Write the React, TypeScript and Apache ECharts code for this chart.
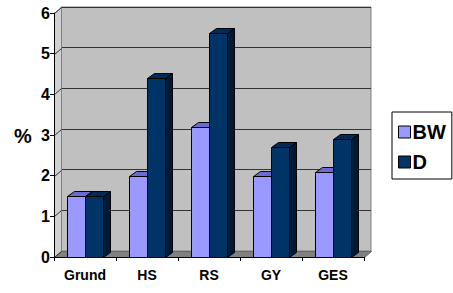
import React, { useEffect, useRef } from "react";
import * as echarts from "echarts";

const categories = ["Grund", "HS", "RS", "GY", "GES"];
const bwValues = [1.5, 2.0, 3.2, 2.0, 2.1];
const dValues = [1.5, 4.4, 5.5, 2.7, 2.9];
const seriesNames = ["BW", "D"];
const yTicks = [0, 1, 2, 3, 4, 5, 6];

const FONT = "'Liberation Sans', Arial, sans-serif";
const DX = 7; // depth offset of the wall
const DY = -6;
const BDX = 7; // bar depth
const BDY = -5;

const px = (v: number) => Math.round(v) + 0.5;

function barRenderer(side: number, front: string, topC: string, sideC: string) {
  return (params: any, api: any) => {
    const idx = api.value(0);
    const val = api.value(1);
    const top = api.coord([idx, val]);
    const base = api.coord([idx, 0]);
    const band = api.size([1, 0])[0];
    const w = Math.round(band * 0.29);
    const x0 = px(side < 0 ? top[0] - w : top[0]);
    const x1 = x0 + w;
    const yT = px(top[1]);
    const yB = px(base[1]);
    return {
      type: "group",
      children: [
        {
          type: "polygon",
          shape: { points: [[x1, yT], [x1 + BDX, yT + BDY], [x1 + BDX, yB + BDY], [x1, yB]] },
          style: { fill: sideC, stroke: "#000", lineWidth: 1 },
        },
        {
          type: "polygon",
          shape: { points: [[x0, yT], [x0 + BDX, yT + BDY], [x1 + BDX, yT + BDY], [x1, yT]] },
          style: { fill: topC, stroke: "#000", lineWidth: 1 },
        },
        {
          type: "polygon",
          shape: { points: [[x0, yT], [x1, yT], [x1, yB], [x0, yB]] },
          style: { fill: front, stroke: "#000", lineWidth: 1 },
        },
      ],
    };
  };
}

function frameRenderer(params: any, api: any) {
  const cs = params.coordSys;
  const left = px(cs.x);
  const right = px(cs.x + cs.width);
  const bottom = px(cs.y + cs.height);
  const topY = px(cs.y);
  const children: any[] = [];
  children.push({
    type: "polygon",
    shape: { points: [[left, bottom], [left, topY], [left + DX, topY + DY], [left + DX, bottom + DY]] },
    style: { fill: "#D0D0D0", stroke: "#808080", lineWidth: 1 },
  });
  children.push({
    type: "polygon",
    shape: { points: [[left, bottom], [right, bottom], [right + DX, bottom + DY], [left + DX, bottom + DY]] },
    style: { fill: "#808080", stroke: "#666", lineWidth: 1 },
  });
  yTicks.forEach((v) => {
    const y = px(api.coord([0, v])[1]);
    children.push({
      type: "line",
      shape: { x1: left, y1: y, x2: left + DX, y2: y + DY },
      style: { stroke: "#333", lineWidth: 1 },
    });
  });
  return { type: "group", children };
}

export default function App() {
  const ref = useRef<HTMLDivElement>(null);
  useEffect(() => {
    if (!ref.current) return;
    const chart = echarts.init(ref.current, undefined, { renderer: "svg" });
    const catIdx = categories.map((_, i) => i);
    chart.setOption({
      animation: false,
      backgroundColor: "#fff",
      grid: [
        { left: 54, right: 89, top: 13, bottom: 36, containLabel: false },
        {
          left: 54 + DX,
          right: 89 - DX,
          top: 13 + DY,
          bottom: 36 - DY,
          show: true,
          backgroundColor: "#C0C0C0",
          borderColor: "#808080",
          borderWidth: 1,
          z: 0,
        },
      ],
      xAxis: [
        {
          type: "category",
          gridIndex: 0,
          data: categories,
          boundaryGap: true,
          axisLine: { show: true, lineStyle: { color: "#000", width: 1 } },
          axisTick: { show: true, length: 4, interval: 0, lineStyle: { color: "#000" } },
          axisLabel: { fontFamily: FONT, fontWeight: "bold", fontSize: 14, color: "#000", margin: 11, interval: 0 },
          z: 5,
        },
        { type: "category", gridIndex: 1, data: categories, show: false },
      ],
      yAxis: [
        {
          type: "value",
          gridIndex: 0,
          min: 0,
          max: 6,
          interval: 1,
          axisLine: { show: true, lineStyle: { color: "#000", width: 1 } },
          axisTick: { show: true, length: 4, lineStyle: { color: "#000" } },
          axisLabel: { fontFamily: FONT, fontWeight: "bold", fontSize: 16, color: "#000", margin: 4 },
          splitLine: { show: false },
          z: 5,
        },
        {
          type: "value",
          gridIndex: 1,
          min: 0,
          max: 6,
          interval: 1,
          axisLine: { show: false },
          axisTick: { show: false },
          axisLabel: { show: false },
          splitLine: { show: true, lineStyle: { color: "#333", width: 1 } },
        },
      ],
      legend: {
        data: seriesNames,
        orient: "vertical",
        left: 392,
        top: 112,
        padding: [10, 6, 7, 6],
        itemGap: 10,
        itemWidth: 12,
        itemHeight: 12,
        icon: "rect",
        selectedMode: false,
        backgroundColor: "#fff",
        borderColor: "#000",
        borderWidth: 1,
        borderRadius: 0,
        itemStyle: { borderColor: "#000", borderWidth: 1 },
        textStyle: { fontFamily: FONT, fontWeight: "bold", fontSize: 20, color: "#000", padding: [0, 0, 0, -3], lineHeight: 19 },
      },
      graphic: [
        {
          type: "text",
          x: 23,
          y: 136,
          style: { text: "%", font: `bold 20px ${FONT}`, fill: "#000", align: "center", verticalAlign: "middle" },
        },
      ],
      series: [
        {
          type: "custom",
          name: "frame",
          xAxisIndex: 0,
          yAxisIndex: 0,
          data: [[0, 0]],
          renderItem: frameRenderer,
          z: 1,
          silent: true,
        },
        {
          type: "custom",
          name: seriesNames[0],
          xAxisIndex: 0,
          yAxisIndex: 0,
          data: catIdx.map((i) => [i, bwValues[i]]),
          encode: { x: 0, y: 1 },
          itemStyle: { color: "#9999FF" },
          renderItem: barRenderer(-1, "#9999FF", "#6B6BD6", "#5A5AB0"),
          z: 2,
        },
        {
          type: "custom",
          name: seriesNames[1],
          xAxisIndex: 0,
          yAxisIndex: 0,
          data: catIdx.map((i) => [i, dValues[i]]),
          encode: { x: 0, y: 1 },
          itemStyle: { color: "#003366" },
          renderItem: barRenderer(1, "#003366", "#002B57", "#001A33"),
          z: 3,
        },
      ],
    });
    return () => chart.dispose();
  }, []);
  return <div ref={ref} style={{ position: "fixed", left: 0, top: 0, width: 453, height: 293 }} />;
}
